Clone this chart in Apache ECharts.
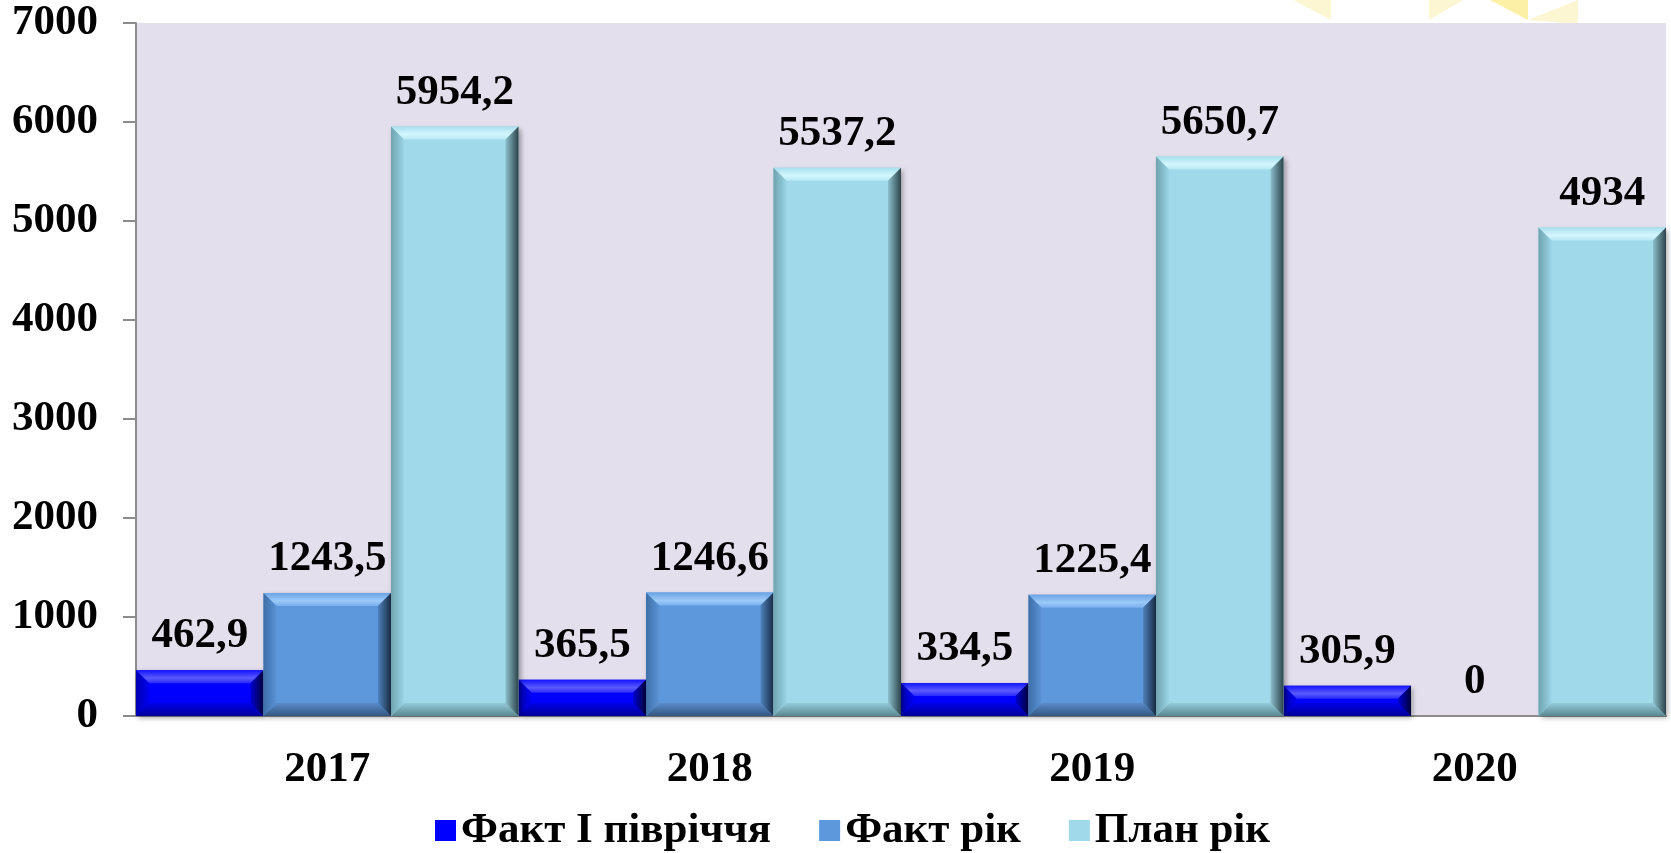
<!DOCTYPE html>
<html>
<head>
<meta charset="utf-8">
<script src="https://cdn.jsdelivr.net/npm/echarts/dist/echarts.min.js"></script>
<style>
html,body{margin:0;padding:0;background:#fff;}
#chart{width:1671px;height:853px;}
</style>
</head>
<body>
<div id="chart"></div>
<script>
// ---- data ----
const categories = ['2017', '2018', '2019', '2020'];
const seriesNames = ['Факт І півріччя', 'Факт рік', 'План рік'];
const factHalfYear = [462.9, 365.5, 334.5, 305.9];
const factYear = [1243.5, 1246.6, 1225.4, 0];
const planYear = [5954.2, 5537.2, 5650.7, 4934];
const yMin = 0, yMax = 7000, yInterval = 1000;

// ---- styles ----
function lg(x2, y2, stops){
  return {type:'linear', x:0, y:0, x2:x2, y2:y2,
    colorStops:stops.map(s => ({offset:s[0], color:s[1]}))};
}
const palettes = [
  {face:'#0000ff',
   top:[[0,'#1414ff'],[0.6,'#5a5aff'],[1,'#2a2aff']],
   left:[[0,'#0000b4'],[1,'#0000f0']],
   right:[[0,'#0000d0'],[1,'#00003a']],
   bottom:[[0,'#0000e8'],[1,'#00009a']]},
  {face:'#5e98dc',
   top:[[0,'#6aa3e5'],[0.6,'#9ccaf8'],[1,'#78b0ee']],
   left:[[0,'#3e6ea6'],[1,'#5a93d6']],
   right:[[0,'#4f82bd'],[1,'#1a2c44']],
   bottom:[[0,'#5a8ccb'],[1,'#34567f']]},
  {face:'#9fd9ea',
   top:[[0,'#a8dfee'],[0.6,'#d4f6fd'],[1,'#b5e8f4']],
   left:[[0,'#6fa3b0'],[1,'#9ad4e5']],
   right:[[0,'#8cbfcc'],[1,'#2c444a']],
   bottom:[[0,'#94cbd8'],[1,'#5a8892']]}
];
const FONT = '"Liberation Serif", "Times New Roman", serif';
const FS = 43;

function fmt(v){ return String(v).replace('.', ','); }

function makeRender(k){
  const p = palettes[k];
  return function(params, api){
    const idx = api.value(0), val = api.value(1);
    const w = api.size([1, 0])[0];
    const base = api.coord([idx, 0]);
    const top = api.coord([idx, val]);
    const bw = w / 3;
    const x0 = base[0] - w / 2 + k * bw, x1 = x0 + bw;
    const y0 = top[1], y1 = base[1];
    const h = y1 - y0;
    const children = [];
    if (h > 0.5) {
      const b = Math.min(13, h / 2, bw / 2);
      children.push({type:'rect', shape:{x:x0, y:y0, width:bw, height:h},
        style:{fill:p.face, shadowColor:'rgba(0,0,0,0.35)', shadowBlur:5, shadowOffsetX:2, shadowOffsetY:2}});
      children.push({type:'polygon', shape:{points:[[x0,y0],[x1,y0],[x1-b,y0+b],[x0+b,y0+b]]}, style:{fill:lg(0,1,p.top)}});
      children.push({type:'polygon', shape:{points:[[x0,y1],[x1,y1],[x1-b,y1-b],[x0+b,y1-b]]}, style:{fill:lg(0,1,p.bottom)}});
      children.push({type:'polygon', shape:{points:[[x0,y0],[x0+b,y0+b],[x0+b,y1-b],[x0,y1]]}, style:{fill:lg(1,0,p.left)}});
      children.push({type:'polygon', shape:{points:[[x1,y0],[x1-b,y0+b],[x1-b,y1-b],[x1,y1]]}, style:{fill:lg(1,0,p.right)}});
    }
    children.push({type:'text', style:{x:(x0 + x1) / 2, y:y0 - 34, text:fmt(val), align:'center', verticalAlign:'middle',
      fontSize:FS, fontWeight:'bold', fontFamily:FONT, fill:'#000'}});
    return {type:'group', children:children};
  };
}

const seriesData = [factHalfYear, factYear, planYear];

const chart = echarts.init(document.getElementById('chart'), null, {renderer:'canvas'});
chart.setOption({
  animation:false,
  backgroundColor:'#ffffff',
  graphic:[
    {type:'polygon', z:-10, shape:{points:[[1293,0],[1331,0],[1331,20]]}, style:{fill:'#fdf6d2'}},
    {type:'polygon', z:-10, shape:{points:[[1429,0],[1463,0],[1429,20]]}, style:{fill:'#fdf6d2'}},
    {type:'polygon', z:-10, shape:{points:[[1490,0],[1528,0],[1528,20]]}, style:{fill:'#fbf0a6'}},
    {type:'polygon', z:-10, shape:{points:[[1528,20],[1578,0],[1578,24]]}, style:{fill:'#fdf6d2'}}
  ],
  grid:{left:136, right:5, top:23, bottom:137, show:true, backgroundColor:'#e4dfec', borderWidth:0},
  legend:{
    data:seriesNames,
    left:430, top:804,
    icon:'rect', itemWidth:21, itemHeight:21, itemGap:48,
    textStyle:{fontSize:FS, fontWeight:'bold', fontFamily:FONT, color:'#000'}
  },
  xAxis:{
    type:'category', data:categories,
    axisLine:{show:true, lineStyle:{color:'#8c8c8c', width:2}},
    axisTick:{show:false},
    axisLabel:{fontSize:FS, fontWeight:'bold', fontFamily:FONT, color:'#000', margin:32},
    splitLine:{show:false}
  },
  yAxis:{
    type:'value', min:yMin, max:yMax, interval:yInterval,
    axisLine:{show:true, lineStyle:{color:'#8c8c8c', width:2}},
    axisTick:{show:true, length:13, lineStyle:{color:'#8c8c8c', width:2}},
    axisLabel:{fontSize:FS, fontWeight:'bold', fontFamily:FONT, color:'#000', margin:38, formatter:v => String(v)},
    splitLine:{show:false}
  },
  series:seriesData.map((arr, k) => ({
    name:seriesNames[k], type:'custom',
    itemStyle:{color:palettes[k].face},
    renderItem:makeRender(k),
    encode:{x:0, y:1},
    data:arr.map((v, i) => [i, v])
  }))
});
</script>
</body>
</html>
